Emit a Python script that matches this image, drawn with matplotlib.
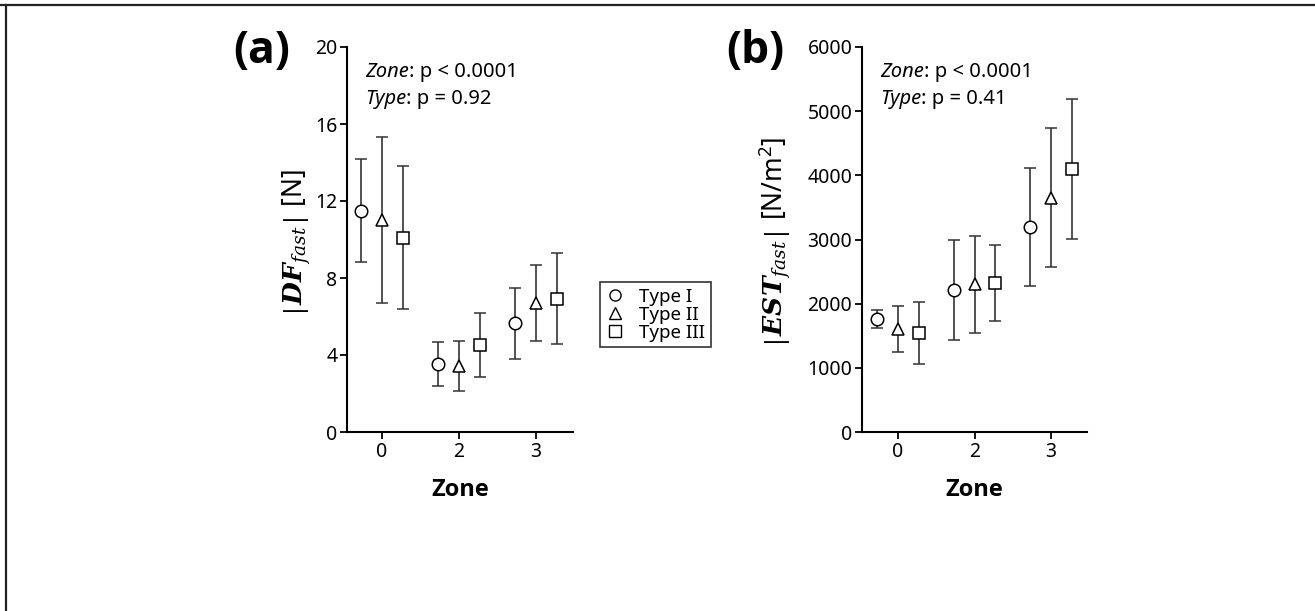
import matplotlib
matplotlib.use("Agg")
import matplotlib.pyplot as plt
from matplotlib.lines import Line2D
import numpy as np

plt.rcParams['font.family'] = ['Noto Sans', 'DejaVu Sans']
plt.rcParams['mathtext.fontset'] = 'custom'
plt.rcParams['mathtext.rm'] = 'Noto Sans'
plt.rcParams['mathtext.it'] = 'DejaVu Serif:italic'
plt.rcParams['mathtext.bf'] = 'DejaVu Serif:bold:italic'
BOLD_FONT = ['Open Sans', 'DejaVu Sans']

# data (mean and SD per type, per zone)
zones = ["0", "2", "3"]
types = ["Type I", "Type II", "Type III"]

df_mean_t1 = [11.5, 3.55, 5.65]
df_sd_t1 = [2.67, 1.15, 1.85]
df_mean_t2 = [11.0, 3.45, 6.72]
df_sd_t2 = [4.3, 1.3, 1.98]
df_mean_t3 = [10.1, 4.52, 6.92]
df_sd_t3 = [3.7, 1.67, 2.37]

est_mean_t1 = [1759, 2211, 3195]
est_sd_t1 = [138, 780, 921]
est_mean_t2 = [1608, 2300, 3652]
est_sd_t2 = [359, 760, 1078]
est_mean_t3 = [1543, 2317, 4094]
est_sd_t3 = [476, 590, 1093]

p_texts_a = [("Zone", "p < 0.0001"), ("Type", "p = 0.92")]
p_texts_b = [("Zone", "p < 0.0001"), ("Type", "p = 0.41")]

markers = ['o', '^', 's']
offsets = [-0.27, 0.0, 0.27]

W, H = 1315, 611
fig = plt.figure(figsize=(W / 100, H / 100), dpi=100)

# thin frame on top and left, like the source image
fig.add_artist(Line2D([0, 1], [1 - 5 / H, 1 - 5 / H], color='#222222', lw=1.6, transform=fig.transFigure))
fig.add_artist(Line2D([6.5 / W, 6.5 / W], [0, 1 - 5 / H], color='#222222', lw=1.6, transform=fig.transFigure))


def make_panel(rect, means, sds, ymax, ystep, xlim, ylabel, letter, ptexts, letter_x, label_x):
    ax = fig.add_axes(rect)
    x = np.arange(len(zones))
    for m, s, mk, off in zip(means, sds, markers, offsets):
        ax.errorbar(x + off, m, yerr=s, fmt=mk, mfc='white', mec='black', mew=1.1,
                    ms=9 if mk != 's' else 8.5, color='#333333', ecolor='#333333',
                    elinewidth=1.2, capsize=4, capthick=1.2, zorder=3)
    ax.set_xlim(*xlim)
    ax.set_ylim(0, ymax)
    ax.set_yticks(np.arange(0, ymax + 1, ystep))
    ax.set_xticks(x)
    ax.set_xticklabels(zones)
    for sp in ['top', 'right']:
        ax.spines[sp].set_visible(False)
    for sp in ['left', 'bottom']:
        ax.spines[sp].set_linewidth(1.5)
    ax.tick_params(direction='out', length=5, width=1.3, labelsize=14, pad=2)
    ax.set_xlabel("Zone", fontsize=17, fontweight='bold', family=BOLD_FONT, labelpad=12)
    ax.set_ylabel(ylabel, fontsize=19)
    ax.yaxis.set_label_coords(label_x, 0.49)

    fig.text(letter_x / W, 1 - 52 / H, letter, fontsize=32, fontweight='bold', family=BOLD_FONT,
             va='center', ha='left')

    for i, (name, val) in enumerate(ptexts):
        t = ax.text(0.08, 0.935 - i * 0.07, name, style='italic', fontsize=14.5,
                    transform=ax.transAxes, va='center')
        ax.annotate(": " + val, xycoords=t, xy=(1, 0.5), va='center', fontsize=14.5)
    return ax


ax_a = make_panel([347 / W, 1 - 432 / H, 226 / W, 385 / H],
                  [df_mean_t1, df_mean_t2, df_mean_t3], [df_sd_t1, df_sd_t2, df_sd_t3],
                  20, 4, (-0.455, 2.48),
                  r'$\left|\mathbf{DF}_{\mathit{fast}}\right|$ [N]', "(a)", p_texts_a, 233, -0.15)

ax_b = make_panel([862 / W, 1 - 432 / H, 225 / W, 385 / H],
                  [est_mean_t1, est_mean_t2, est_mean_t3], [est_sd_t1, est_sd_t2, est_sd_t3],
                  6000, 1000, (-0.47, 2.47),
                  r'$\left|\mathbf{EST}_{\mathit{fast}}\right|$ [N/m$^2$]', "(b)", p_texts_b, 726, -0.30)

handles = [Line2D([], [], marker=mk, ls='none', mfc='white', mec='black', mew=1.0, ms=8)
           for mk in markers]
fig.legend(handles, types, loc='upper left', bbox_to_anchor=(600 / W, 1 - 282 / H),
           frameon=True, fancybox=False, edgecolor='black', fontsize=13.5,
           handlelength=1.0, handletextpad=0.8, borderpad=0.3, labelspacing=0.0,
           borderaxespad=0)
fig.legends[0].get_frame().set_linewidth(1.2)

fig.savefig("out.png", dpi=100)
